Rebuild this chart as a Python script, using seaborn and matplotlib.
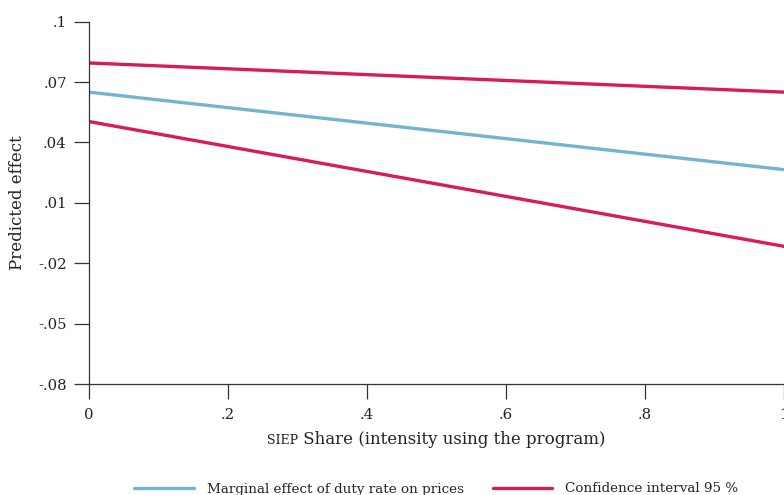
import matplotlib
matplotlib.use("Agg")
import matplotlib.pyplot as plt
import seaborn as sns
import pandas as pd

# SIEP share and predicted marginal effect with 95% bounds
share = [0.0, 1.0]
marginal_effect = [0.0650, 0.0265]
ci_upper = [0.0795, 0.0650]
ci_lower = [0.0504, -0.0116]

x_ticks = [0, 0.2, 0.4, 0.6, 0.8, 1.0]
x_tick_labels = ["0", ".2", ".4", ".6", ".8", "1"]
y_ticks = [-0.08, -0.05, -0.02, 0.01, 0.04, 0.07, 0.1]
y_tick_labels = ["-.08", "-.05", "-.02", ".01", ".04", ".07", ".1"]

BLUE = "#72b4d2"
RED = "#d91a5b"
INK = "#222222"

sns.set_theme(style="ticks")
plt.rcParams["font.family"] = ["DejaVu Serif"]

df = pd.DataFrame({
    "share": share * 3,
    "value": marginal_effect + ci_upper + ci_lower,
    "series": ["me"] * 2 + ["hi"] * 2 + ["lo"] * 2,
})

W, H = 784, 495
fig = plt.figure(figsize=(W / 100, H / 100), dpi=100)
ax = fig.add_axes([89 / W, 1 - 384 / H, 1 - 89 / W, (384 - 21.7) / H])

sns.lineplot(data=df[df.series == "me"], x="share", y="value", ax=ax,
             color=BLUE, lw=2.4, label="Marginal effect of duty rate on prices")
sns.lineplot(data=df[df.series == "hi"], x="share", y="value", ax=ax,
             color=RED, lw=2.4, label="Confidence interval 95 %")
sns.lineplot(data=df[df.series == "lo"], x="share", y="value", ax=ax,
             color=RED, lw=2.4, label="_nolegend_")

ax.set_xlim(0, 1)
ax.set_ylim(-0.08, 0.1)
ax.set_xticks(x_ticks)
ax.set_xticklabels(x_tick_labels)
ax.set_yticks(y_ticks)
ax.set_yticklabels(y_tick_labels)
ax.tick_params(axis="both", length=10.5, width=0.9, color="#333333",
               labelsize=10.7, labelcolor=INK)
ax.tick_params(axis="y", pad=5.5)
ax.tick_params(axis="x", pad=6.5)
for s in ["top", "right"]:
    ax.spines[s].set_visible(False)
for s in ["left", "bottom"]:
    ax.spines[s].set_color("#333333")
    ax.spines[s].set_linewidth(0.9)

ax.set_ylabel("")
ax.set_xlabel("")
fig.text(18 / W, 1 - 203 / H, "Predicted effect", rotation=90, fontsize=12,
         color=INK, ha="center", va="center")

# x-axis title with small-caps acronym
main = fig.text(0.5, 0, " Share (intensity using the program)", fontsize=12,
                color=INK, va="baseline", ha="left")
sc = fig.text(0.5, 0, "SIEP", fontsize=9, color=INK, va="baseline", ha="left")
fig.canvas.draw()
r = fig.canvas.get_renderer()
w_main = main.get_window_extent(r).width / fig.bbox.width
w_sc = sc.get_window_extent(r).width / fig.bbox.width
cx = (89 + 784) / 2 / W
left = cx - (w_main + w_sc) / 2
yb = 1 - 444 / H
sc.set_position((left, yb))
main.set_position((left + w_sc, yb))

ax.get_legend().remove()
h, l = ax.get_legend_handles_labels()
fig.legend(h, l, loc="center", bbox_to_anchor=(cx, 1 - 489 / H), ncol=2,
           frameon=False, fontsize=9.7, handlelength=4.4, columnspacing=2.1,
           handletextpad=1.0, borderaxespad=0, borderpad=0)

fig.savefig("out.png", dpi=100)
